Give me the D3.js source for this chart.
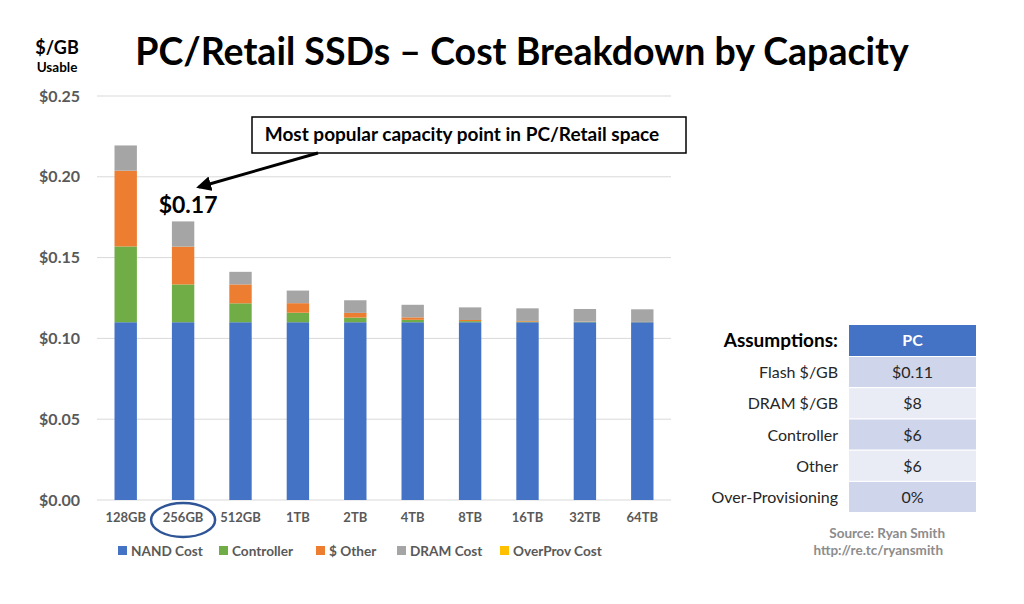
<!DOCTYPE html>
<html><head><meta charset="utf-8">
<script src="https://cdn.jsdelivr.net/npm/d3@7"></script>
<style>body{margin:0;background:#fff;} svg{display:block;font-family:Lato,"Open Sans",sans-serif;}</style>
</head><body><svg id="c" width="1024" height="604"></svg>
<script>
const categories = ["128GB","256GB","512GB","1TB","2TB","4TB","8TB","16TB","32TB","64TB"];
const seriesNames = ["NAND Cost","Controller","$ Other","DRAM Cost","OverProv Cost"];
const nandCost = [0.11,0.11,0.11,0.11,0.11,0.11,0.11,0.11,0.11,0.11];
const controllerCost = [0.0469,0.0234,0.0117,0.0059,0.0029,0.0015,0.0007,0.0004,0.0002,0.0001];
const otherCost = [0.0469,0.0234,0.0117,0.0059,0.0029,0.0015,0.0007,0.0004,0.0002,0.0001];
const dramCost = [0.0156,0.0156,0.0078,0.0078,0.0078,0.0078,0.0078,0.0078,0.0078,0.0078];
const overProvCost = [0,0,0,0,0,0,0,0,0,0];
const yTicks = [0,0.05,0.10,0.15,0.20,0.25];
const assumptionLabels = ["Flash $/GB","DRAM $/GB","Controller","Other","Over-Provisioning"];
const assumptionValues = ["$0.11","$8","$6","$6","0%"];
const colors = ["#4472C4","#70AD47","#ED7D31","#A5A5A5","#FFC000"];

const svg = d3.select("#c");
const x = d3.scaleBand().domain(categories).range([97,671]).paddingInner(0.61).paddingOuter(0.305);
const y = d3.scaleLinear().domain([0,0.25]).range([500,96]);

// gridlines
svg.append("g").selectAll("line").data(yTicks).join("line")
  .attr("x1",97).attr("x2",671).attr("y1",d=>y(d)).attr("y2",d=>y(d))
  .attr("stroke","#D9D9D9").attr("stroke-width",1);

// y axis labels
const yAxis = d3.axisLeft(y).tickValues(yTicks).tickFormat(d=>"$"+d.toFixed(2)).tickSize(0).tickPadding(0);
const gy = svg.append("g").attr("transform","translate(80,0)").call(yAxis);
gy.select(".domain").remove();
gy.selectAll("text").attr("fill","#595959").attr("font-size",16).attr("font-weight","bold").attr("font-family","Lato");

// x axis labels
const xAxis = d3.axisBottom(x).tickSize(0).tickPadding(0);
const gx = svg.append("g").attr("transform","translate(0,513)").call(xAxis);
gx.select(".domain").remove();
gx.selectAll("text").attr("fill","#595959").attr("font-size",13).attr("font-weight","bold").attr("font-family","Lato");

// stacked bars
const rows = categories.map((c,i)=>({cat:c, s0:nandCost[i], s1:controllerCost[i], s2:otherCost[i], s3:dramCost[i], s4:overProvCost[i]}));
const stack = d3.stack().keys(["s0","s1","s2","s3","s4"])(rows);
svg.append("g").selectAll("g").data(stack).join("g").attr("fill",(d,i)=>colors[i])
  .selectAll("rect").data(d=>d).join("rect")
  .attr("x",d=>x(d.data.cat)).attr("width",x.bandwidth())
  .attr("y",d=>y(d[1])).attr("height",d=>Math.max(0,y(d[0])-y(d[1])));

// titles
svg.append("text").attr("x",522).attr("y",65).attr("text-anchor","middle").attr("font-size",37.5).attr("font-weight","bold").attr("fill","#000").text("PC/Retail SSDs – Cost Breakdown by Capacity");
svg.append("text").attr("x",57).attr("y",54).attr("text-anchor","middle").attr("font-size",18).attr("font-weight","bold").text("$/GB");
svg.append("text").attr("x",57).attr("y",72).attr("text-anchor","middle").attr("font-size",13.5).attr("font-weight","bold").text("Usable");

// $0.17 label
const total256 = nandCost[1]+controllerCost[1]+otherCost[1]+dramCost[1]+overProvCost[1];
svg.append("text").attr("x",x("256GB")+x.bandwidth()/2+5).attr("y",y(total256)-8).attr("text-anchor","middle").attr("font-size",23).attr("font-weight","bold").text("$"+total256.toFixed(2));

// annotation box
svg.append("rect").attr("x",252).attr("y",117).attr("width",434).attr("height",36).attr("fill","#fff").attr("stroke","#000").attr("stroke-width",1.5);
svg.append("text").attr("x",462).attr("y",141).attr("text-anchor","middle").attr("font-size",19).attr("font-weight","bold").text("Most popular capacity point in PC/Retail space");
svg.append("defs").append("marker").attr("id","ah").attr("viewBox","0 0 10 10").attr("refX",8).attr("refY",5).attr("markerWidth",5).attr("markerHeight",5).attr("orient","auto")
  .append("path").attr("d","M0,0L10,5L0,10z").attr("fill","#000");
svg.append("line").attr("x1",318).attr("y1",153).attr("x2",199).attr("y2",187).attr("stroke","#000").attr("stroke-width",3).attr("marker-end","url(#ah)");

// ellipse
svg.append("ellipse").attr("cx",x("256GB")+x.bandwidth()/2).attr("cy",520).attr("rx",32).attr("ry",17).attr("fill","none").attr("stroke","#2F5597").attr("stroke-width",2.5);

// legend
const legX = [118,219,316,397,500];
const leg = svg.append("g").selectAll("g").data(seriesNames).join("g").attr("transform",(d,i)=>`translate(${legX[i]},546)`);
leg.append("rect").attr("width",9).attr("height",9).attr("fill",(d,i)=>colors[i]);
leg.append("text").attr("x",13).attr("y",10).attr("font-size",13.6).attr("font-weight","bold").attr("fill","#595959").text(d=>d);

// table
svg.append("text").attr("x",838).attr("y",347).attr("text-anchor","end").attr("font-size",19).attr("font-weight","bold").text("Assumptions:");
svg.append("rect").attr("x",849).attr("y",325).attr("width",127).attr("height",31).attr("fill","#4472C4");
svg.append("text").attr("x",912.5).attr("y",346).attr("text-anchor","middle").attr("font-size",16).attr("font-weight","bold").attr("fill","#fff").text("PC");
const rowY = d3.scaleBand().domain(d3.range(assumptionLabels.length)).range([357,512]).paddingInner(0.04);
const tr = svg.append("g").selectAll("g").data(assumptionLabels).join("g");
tr.append("rect").attr("x",849).attr("y",(d,i)=>rowY(i)).attr("width",127).attr("height",rowY.bandwidth()).attr("fill",(d,i)=>i%2===0?"#CFD5EA":"#E9EBF5");
tr.append("text").attr("x",838).attr("y",(d,i)=>rowY(i)+rowY.bandwidth()/2+6).attr("text-anchor","end").attr("font-size",16).attr("fill","#262626").text(d=>d);
tr.append("text").attr("x",912.5).attr("y",(d,i)=>rowY(i)+rowY.bandwidth()/2+6).attr("text-anchor","middle").attr("font-size",16).attr("fill","#262626").text((d,i)=>assumptionValues[i]);

// source
svg.append("text").attr("x",945).attr("y",538).attr("text-anchor","end").attr("font-size",13.5).attr("font-weight","bold").attr("fill","#8C8C8C").text("Source: Ryan Smith");
svg.append("text").attr("x",943).attr("y",555).attr("text-anchor","end").attr("font-size",13.5).attr("font-weight","bold").attr("fill","#8C8C8C").text("http://re.tc/ryansmith");
</script></body></html>
